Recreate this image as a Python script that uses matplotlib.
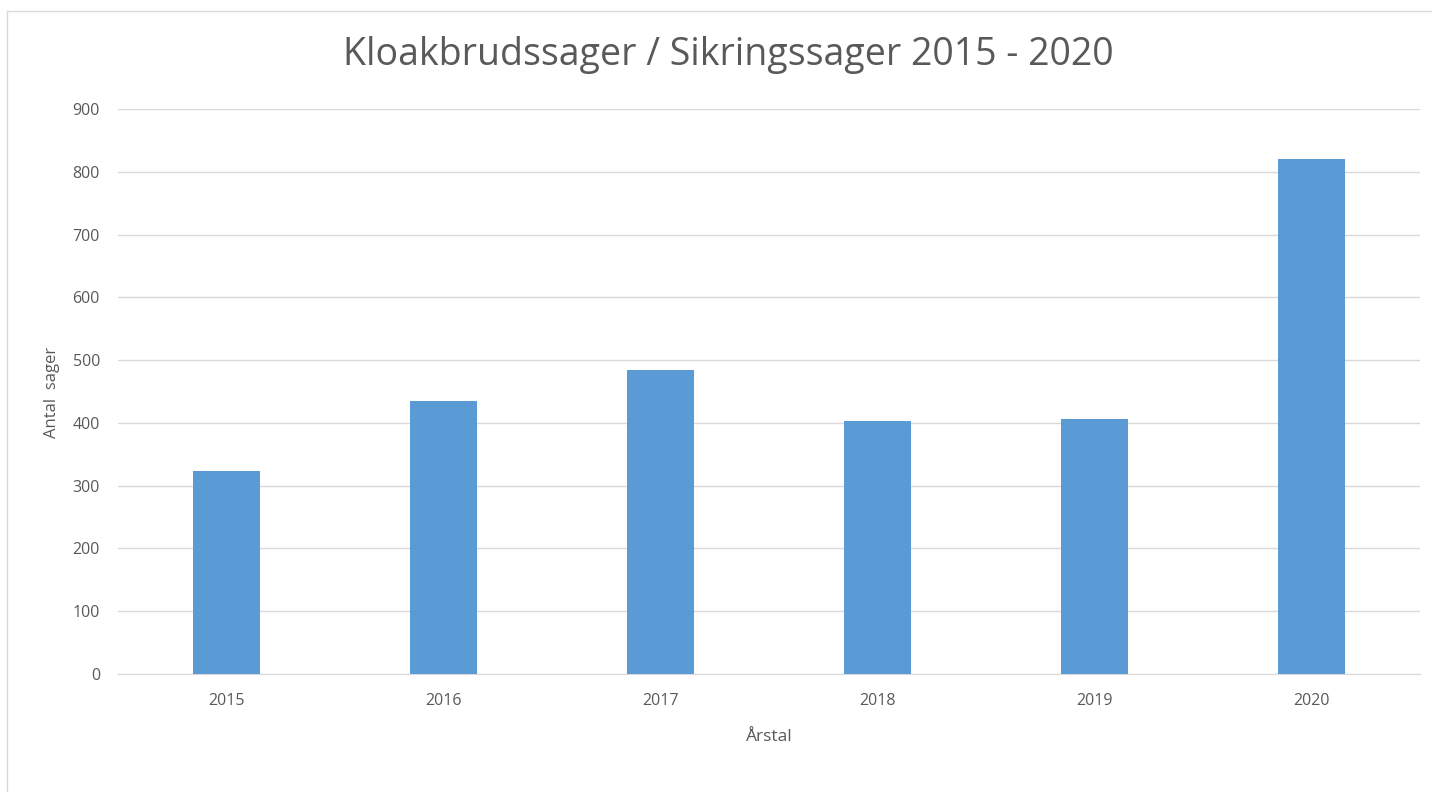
import matplotlib.pyplot as plt
from matplotlib.lines import Line2D

years = ["2015", "2016", "2017", "2018", "2019", "2020"]
cases = [323, 435, 484, 403, 406, 821]

W, H = 1432, 792
fig = plt.figure(figsize=(W / 100, H / 100), dpi=100)
plt.rcParams['font.family'] = ['Open Sans', 'DejaVu Sans']

# chart frame (left and top edge visible)
fig.add_artist(Line2D([7 / W, 7 / W], [0, 1 - 11 / H], color="#d9d9d9", lw=1))
fig.add_artist(Line2D([7 / W, 1], [1 - 11 / H, 1 - 11 / H], color="#d9d9d9", lw=1))

ax = fig.add_axes([118 / W, 1 - 674 / H, (1420 - 118) / W, (674 - 109) / H])
x = range(len(years))
ax.bar(x, cases, width=0.31, color="#5b9bd5", zorder=3)

ax.set_xlim(-0.5, len(years) - 0.5)
ax.set_ylim(0, 900)
ax.set_yticks(range(0, 901, 100))
ax.set_xticks(list(x))
ax.set_xticklabels(years)
ax.grid(axis="y", color="#d9d9d9", lw=1, zorder=0)
for s in ["top", "right", "left"]:
    ax.spines[s].set_visible(False)
ax.spines["bottom"].set_color("#d9d9d9")
ax.tick_params(length=0, colors="#595959", labelsize=11.5)
ax.tick_params(axis="y", pad=13)
ax.tick_params(axis="x", pad=14)

ax.set_xlabel("Årstal", color="#595959", fontsize=12.5, labelpad=14)
ax.set_ylabel("Antal  sager", color="#595959", fontsize=12)
ax.yaxis.set_label_coords(-58 / (1420 - 118), (674 - 392) / (674 - 109))

fig.text(728 / W, 1 - 55 / H, "Kloakbrudssager / Sikringssager 2015 - 2020",
         ha="center", va="center", fontsize=27, color="#595959")

fig.savefig("out.png", dpi=100, facecolor="white")
